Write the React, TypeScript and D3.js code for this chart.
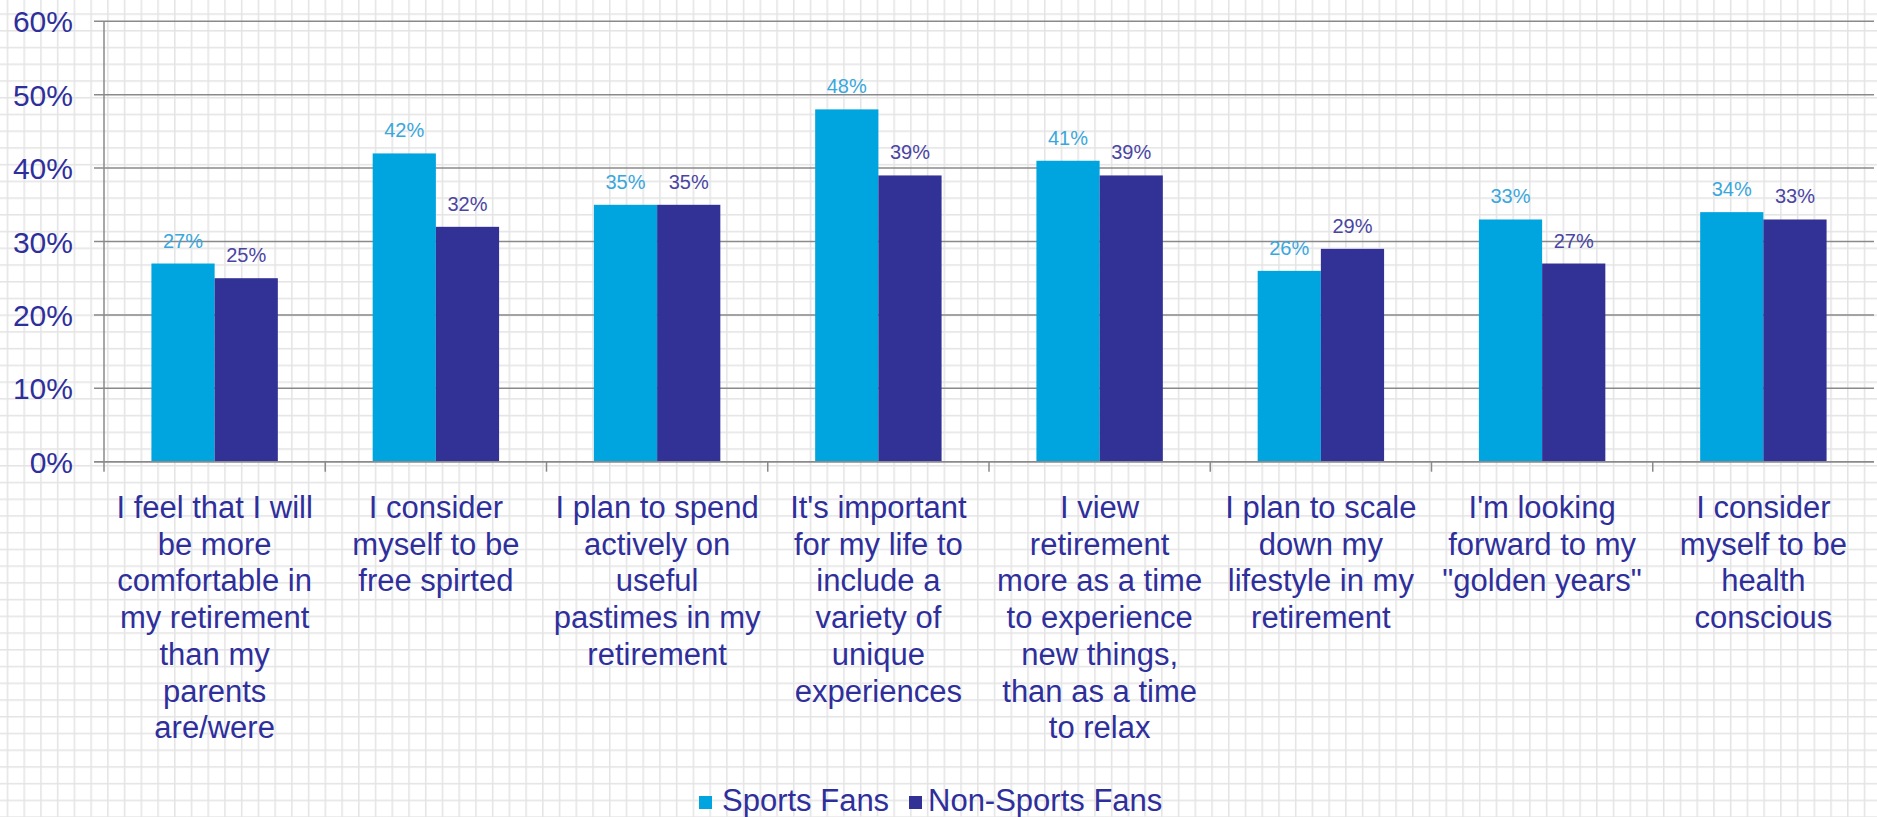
import React from "react";
import * as d3 from "d3";

const categories = [
  "I feel that I will be more comfortable in my retirement than my parents are/were",
  "I consider myself to be free spirted",
  "I plan to spend actively on useful pastimes in my retirement",
  "It's important for my life to include a variety of unique experiences",
  "I view retirement more as a time to experience new things, than as a time to relax",
  "I plan to scale down my lifestyle in my retirement",
  "I'm looking forward to my \"golden years\"",
  "I consider myself to be health conscious",
];

const categoryLines = [
  ["I feel that I will", "be more", "comfortable in", "my retirement", "than my", "parents", "are/were"],
  ["I consider", "myself to be", "free spirted"],
  ["I plan to spend", "actively on", "useful", "pastimes in my", "retirement"],
  ["It's important", "for my life to", "include a", "variety of", "unique", "experiences"],
  ["I view", "retirement", "more as a time", "to experience", "new things,", "than as a time", "to relax"],
  ["I plan to scale", "down my", "lifestyle in my", "retirement"],
  ["I'm looking", "forward to my", "\"golden years\""],
  ["I consider", "myself to be", "health", "conscious"],
];

const seriesNames = ["Sports Fans", "Non-Sports Fans"];
const sportsFans = [27, 42, 35, 48, 41, 26, 33, 34];
const nonSportsFans = [25, 32, 35, 39, 39, 29, 27, 33];
const yTicks = [0, 10, 20, 30, 40, 50, 60];

const W = 1877;
const H = 817;
const left = 104;
const right = 1874;
const top = 21.3;
const bottom = 461.7;

const barColors = ["#00a5e0", "#323296"];
const labelColors = ["#3aa7dc", "#4a45a3"];
const textColor = "#2f2f9c";
const axisColor = "#8a8a8a";
const FONT = "'Liberation Sans', Arial, Helvetica, sans-serif";

export default function App() {
  const x = d3.scaleBand<string>().domain(categories).range([left, right]).padding(0);
  const y = d3.scaleLinear().domain([0, 60]).range([bottom, top]);
  const bw = x.bandwidth();
  const barW = bw * 0.2857;
  const groupOffset = (bw - 2 * barW) / 2;
  const series = [sportsFans, nonSportsFans];
  const gridStep = 16.73;

  return (
    <svg
      width={W}
      height={H}
      style={{ position: "absolute", left: 0, top: 0, display: "block" }}
      fontFamily={FONT}
    >
      <defs>
        <pattern
          id="paper"
          width={gridStep}
          height={gridStep}
          patternUnits="userSpaceOnUse"
          x={6.7}
          y={13.3}
        >
          <rect width={gridStep} height={gridStep} fill="#ffffff" />
          <line x1={0.75} y1={0} x2={0.75} y2={gridStep} stroke="#e4e4e4" strokeWidth={1.5} />
          <line x1={0} y1={0.75} x2={gridStep} y2={0.75} stroke="#e4e4e4" strokeWidth={1.5} />
        </pattern>
      </defs>
      <rect x={0} y={0} width={W} height={H} fill="url(#paper)" />

      {/* gridlines + y labels */}
      {yTicks.map((t) => (
        <g key={t}>
          <line
            x1={left - 10}
            x2={right}
            y1={y(t)}
            y2={y(t)}
            stroke={axisColor}
            strokeWidth={1.5}
          />
          <text
            x={73}
            y={y(t) + 11}
            textAnchor="end"
            fontSize={30}
            fill={textColor}
          >
            {t}%
          </text>
        </g>
      ))}

      {/* bars */}
      {categories.map((c, i) =>
        series.map((s, j) => {
          const bx = (x(c) as number) + groupOffset + j * barW;
          const by = y(s[i]);
          return (
            <g key={`${i}-${j}`}>
              <rect x={bx} y={by} width={barW} height={bottom - by} fill={barColors[j]} />
              <text
                x={bx + barW / 2}
                y={by - 16}
                textAnchor="middle"
                fontSize={20}
                fill={labelColors[j]}
              >
                {s[i]}%
              </text>
            </g>
          );
        })
      )}

      {/* axes */}
      <line x1={left} x2={left} y1={top} y2={bottom + 10} stroke={axisColor} strokeWidth={1.5} />
      <line x1={left - 10} x2={right} y1={bottom} y2={bottom} stroke={axisColor} strokeWidth={1.5} />
      {categories.map((c, i) =>
        i === 0 ? null : (
          <line
            key={c}
            x1={x(c) as number}
            x2={x(c) as number}
            y1={bottom}
            y2={bottom + 10}
            stroke={axisColor}
            strokeWidth={1.5}
          />
        )
      )}

      {/* category labels */}
      {categories.map((c, i) => (
        <text
          key={c}
          x={(x(c) as number) + bw / 2}
          y={518}
          textAnchor="middle"
          fontSize={31}
          fill={textColor}
        >
          {categoryLines[i].map((ln, k) => (
            <tspan key={k} x={(x(c) as number) + bw / 2} y={518 + k * 36.7}>
              {ln}
            </tspan>
          ))}
        </text>
      ))}

      {/* legend */}
      <g>
        <rect x={699} y={796} width={13} height={13} fill={barColors[0]} />
        <text x={722} y={811} fontSize={31} fill={textColor}>
          {seriesNames[0]}
        </text>
        <rect x={909} y={796} width={13} height={13} fill={barColors[1]} />
        <text x={928} y={811} fontSize={31} fill={textColor}>
          {seriesNames[1]}
        </text>
      </g>
    </svg>
  );
}
